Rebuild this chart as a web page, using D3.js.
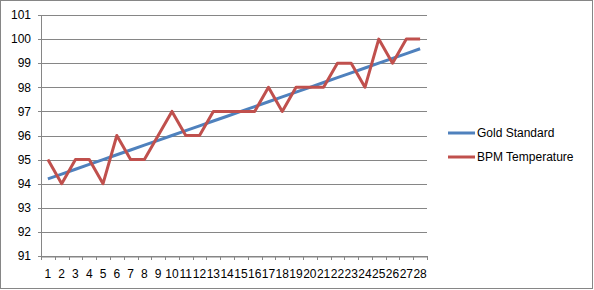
<!DOCTYPE html>
<html>
<head>
<meta charset="utf-8">
<script src="https://cdn.jsdelivr.net/npm/d3@7"></script>
<style>
body { margin: 0; background: #fff; }
svg { display: block; font-family: "Liberation Sans", Arial, sans-serif; }
</style>
</head>
<body>
<script>
const w = 594;
const h = 290;

const days = d3.range(1, 29).map(String);
const goldStandard = [94.2, 94.4, 94.6, 94.8, 95.0, 95.2, 95.4, 95.6, 95.8, 96.0, 96.2, 96.4, 96.6, 96.8,
	97.0, 97.2, 97.4, 97.6, 97.8, 98.0, 98.2, 98.4, 98.6, 98.8, 99.0, 99.2, 99.4, 99.6];
const bpmTemp = [95, 94, 95, 95, 94, 96, 95, 95, 96, 97, 96, 96, 97, 97, 97, 97, 98, 97, 98, 98, 98, 99, 99, 98, 100, 99, 100, 100];
const yTicks = d3.range(91, 102);
const seriesNames = ["Gold Standard", "BPM Temperature"];
const colors = ["#4F81BD", "#C0504D"];

const plot = {left: 41, right: 427, top: 15, bottom: 256};

const svg = d3.select("body").append("svg")
	.attr("width", w)
	.attr("height", h);

svg.append("rect")
	.attr("x", 0.5).attr("y", 0.5)
	.attr("width", 592).attr("height", 288)
	.attr("fill", "#fff")
	.attr("stroke", "#868686");

const xScale = d3.scaleBand()
	.domain(days)
	.range([plot.left, plot.right]);

const yScale = d3.scaleLinear()
	.domain([91, 101])
	.range([plot.bottom, plot.top]);

// gridlines
svg.append("g")
	.selectAll("line")
	.data(yTicks)
	.enter()
	.append("line")
	.attr("x1", plot.left - 3)
	.attr("x2", plot.right)
	.attr("y1", (d) => Math.round(yScale(d)) + 0.5)
	.attr("y2", (d) => Math.round(yScale(d)) + 0.5)
	.attr("stroke", "#868686");

// y axis line
svg.append("line")
	.attr("x1", plot.left + 0.5).attr("x2", plot.left + 0.5)
	.attr("y1", plot.top).attr("y2", plot.bottom)
	.attr("stroke", "#868686");

svg.append("g")
	.selectAll("text")
	.data(yTicks)
	.enter()
	.append("text")
	.attr("x", 31)
	.attr("y", (d) => yScale(d))
	.attr("dy", "0.35em")
	.attr("text-anchor", "end")
	.attr("font-size", 12)
	.attr("fill", "#000")
	.text((d) => d);

// x axis
const xAxis = d3.axisBottom(xScale).tickSize(0).tickPadding(13);
const gx = svg.append("g")
	.attr("transform", "translate(0," + (plot.bottom + 0.5) + ")")
	.call(xAxis);
gx.select(".domain").attr("stroke", "#868686");
gx.selectAll("text").attr("font-size", 12).attr("fill", "#000").attr("font-family", "Liberation Sans, Arial, sans-serif");

const bounds = days.map((d) => xScale(d)).concat([plot.right]);
svg.append("g")
	.selectAll("line")
	.data(bounds)
	.enter()
	.append("line")
	.attr("x1", (d) => Math.round(d) + 0.5)
	.attr("x2", (d) => Math.round(d) + 0.5)
	.attr("y1", plot.bottom)
	.attr("y2", plot.bottom + 4)
	.attr("stroke", "#868686");

const line = d3.line()
	.x((d, i) => xScale(days[i]) + xScale.bandwidth() / 2)
	.y((d) => yScale(d));

[goldStandard, bpmTemp].forEach((s, i) => {
	svg.append("path")
		.datum(s)
		.attr("d", line)
		.attr("fill", "none")
		.attr("stroke", colors[i])
		.attr("stroke-width", 3)
		.attr("stroke-linejoin", "round");
});

// legend
const legendY = [133, 157];
seriesNames.forEach((name, i) => {
	svg.append("line")
		.attr("x1", 448).attr("x2", 475)
		.attr("y1", legendY[i]).attr("y2", legendY[i])
		.attr("stroke", colors[i])
		.attr("stroke-width", 3);
	svg.append("text")
		.attr("x", 477)
		.attr("y", legendY[i])
		.attr("dy", "0.35em")
		.attr("font-size", 12)
		.attr("fill", "#000")
		.text(name);
});
</script>
</body>
</html>
